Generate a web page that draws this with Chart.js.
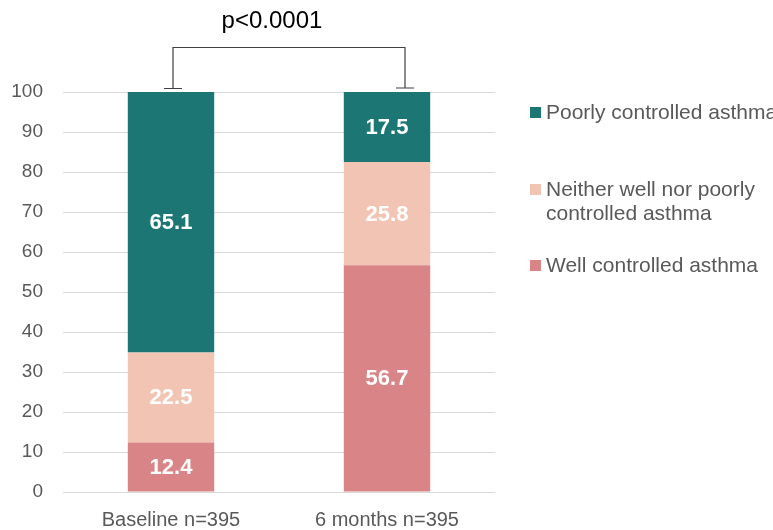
<!DOCTYPE html>
<html>
<head>
<meta charset="utf-8">
<script src="https://cdn.jsdelivr.net/npm/chart.js@4/dist/chart.umd.min.js"></script>
<style>
  html, body { margin: 0; padding: 0; background: #fff; }
  #wrap { width: 773px; height: 530px; position: relative; }
</style>
</head>
<body>
<div id="wrap"><canvas id="c" width="773" height="530"></canvas></div>
<script>
const categories = ['Baseline n=395', '6 months n=395'];
const wellControlled = [12.4, 56.7];
const neitherControlled = [22.5, 25.8];
const poorlyControlled = [65.1, 17.5];
const seriesNames = ['Well controlled asthma', 'Neither well nor poorly controlled asthma', 'Poorly controlled asthma'];
const legendLines = [
  ['Poorly controlled asthma'],
  ['Neither well nor poorly', 'controlled asthma'],
  ['Well controlled asthma']
];
const yTicks = [0, 10, 20, 30, 40, 50, 60, 70, 80, 90, 100];
const pValueText = 'p<0.0001';

const COLORS = { well: '#D98486', neither: '#F2C4B3', poorly: '#1C7673' };
const FONT = 'Arial, "Liberation Sans", sans-serif';

// White bold value labels centred inside each segment
const segmentLabels = {
  id: 'segmentLabels',
  afterDatasetsDraw(chart) {
    const ctx = chart.ctx;
    ctx.save();
    ctx.fillStyle = '#ffffff';
    ctx.font = 'bold 22px ' + FONT;
    ctx.textAlign = 'center';
    ctx.textBaseline = 'middle';
    chart.data.datasets.forEach((ds, i) => {
      const meta = chart.getDatasetMeta(i);
      meta.data.forEach((bar, j) => {
        const y = (bar.y + bar.base) / 2;
        ctx.fillText(ds.data[j].toFixed(1), bar.x, y + 1);
      });
    });
    ctx.restore();
  }
};

// Significance bracket joining the tops of the two stacks
const bracket = {
  id: 'bracket',
  afterDraw(chart) {
    const ctx = chart.ctx;
    const xs = chart.scales.x;
    const ys = chart.scales.y;
    const x1 = xs.getPixelForValue(0) + 2;
    const x2 = xs.getPixelForValue(1) + 18;
    const yTop = ys.getPixelForValue(100);
    const yFoot = yTop - 4;
    const yBar = 47;
    ctx.save();
    ctx.strokeStyle = '#404040';
    ctx.lineWidth = 1.2;
    ctx.beginPath();
    ctx.moveTo(x1, yFoot); ctx.lineTo(x1, yBar + 0.5);
    ctx.lineTo(x2, yBar + 0.5); ctx.lineTo(x2, yFoot);
    ctx.moveTo(x1 - 9, yFoot + 0.5); ctx.lineTo(x1 + 9, yFoot + 0.5);
    ctx.moveTo(x2 - 9, yFoot); ctx.lineTo(x2 + 9, yFoot);
    ctx.stroke();
    ctx.fillStyle = '#000000';
    ctx.font = '24px ' + FONT;
    ctx.textAlign = 'center';
    ctx.textBaseline = 'middle';
    ctx.fillText(pValueText, (xs.getPixelForValue(0) + xs.getPixelForValue(1)) / 2 - 7, 21);
    ctx.restore();
  }
};

// Legend on the right, top entry first
const sideLegend = {
  id: 'sideLegend',
  afterDraw(chart) {
    const ctx = chart.ctx;
    const swatch = [COLORS.poorly, COLORS.neither, COLORS.well];
    const tops = [113, 190, 266];
    ctx.save();
    ctx.font = '21px ' + FONT;
    ctx.textBaseline = 'middle';
    ctx.textAlign = 'left';
    legendLines.forEach((lines, i) => {
      ctx.fillStyle = swatch[i];
      ctx.fillRect(530, tops[i] - 6, 11, 11);
      ctx.fillStyle = '#595959';
      lines.forEach((t, k) => ctx.fillText(t, 546, tops[i] + k * 24));
    });
    ctx.restore();
  }
};

new Chart(document.getElementById('c'), {
  type: 'bar',
  data: {
    labels: categories,
    datasets: [
      { label: seriesNames[0], data: wellControlled, backgroundColor: COLORS.well },
      { label: seriesNames[1], data: neitherControlled, backgroundColor: COLORS.neither },
      { label: seriesNames[2], data: poorlyControlled, backgroundColor: COLORS.poorly }
    ]
  },
  options: {
    responsive: false,
    animation: false,
    layout: { padding: { top: 92, right: 278, left: 0, bottom: 0 } },
    datasets: { bar: { categoryPercentage: 1.0, barPercentage: 0.4, borderWidth: 0 } },
    plugins: { legend: { display: false }, tooltip: { enabled: false } },
    scales: {
      x: {
        stacked: true,
        grid: { display: false },
        border: { display: false },
        ticks: { color: '#595959', font: { family: FONT, size: 20 }, padding: 8 },
        afterFit(s) { s.height = 38; }
      },
      y: {
        stacked: true,
        min: 0, max: 100,
        afterBuildTicks(s) { s.ticks = yTicks.map(v => ({ value: v })); },
        grid: { color: '#D9D9D9', lineWidth: 1, drawTicks: false },
        border: { display: false },
        ticks: { color: '#595959', font: { family: FONT, size: 19 }, padding: 20 },
        afterFit(s) { s.width = 63; }
      }
    }
  },
  plugins: [segmentLabels, bracket, sideLegend]
});
</script>
</body>
</html>
